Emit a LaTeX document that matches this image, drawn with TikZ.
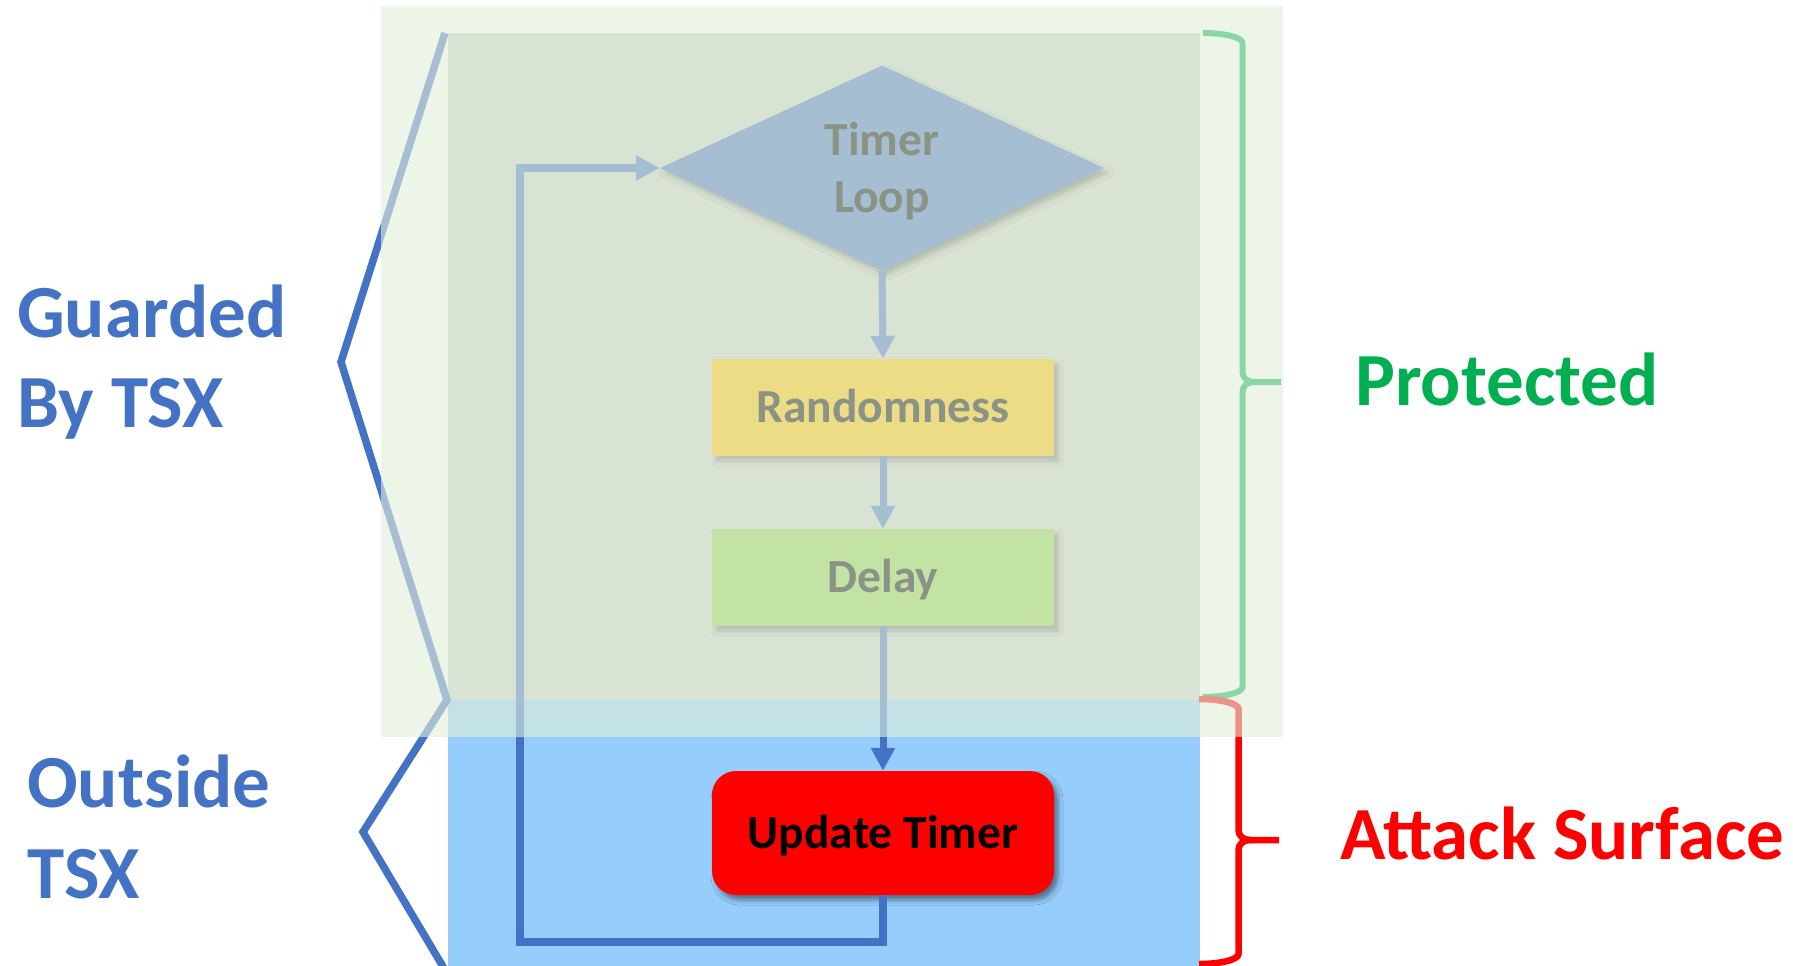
\documentclass[tikz,border=0pt]{standalone}
\usepackage{fontspec}
\setmainfont{Carlito}
\usetikzlibrary{shapes.geometric, arrows.meta, shadows.blur}

\definecolor{tsxblue}{RGB}{68,114,196}
\definecolor{gold}{RGB}{255,192,0}
\definecolor{lgreen}{RGB}{146,208,80}
\definecolor{okgreen}{RGB}{0,176,80}
\definecolor{skyblue}{RGB}{150,205,253}
\definecolor{guardgray}{RGB}{205,208,201}
\definecolor{veil}{RGB}{226,239,219}

\begin{document}
\begin{tikzpicture}[x=1pt, y=-1pt,
  flowbox/.style={draw=none, inner sep=0pt,
    blur shadow={shadow xshift=4pt, shadow yshift=-5pt,
                 shadow blur radius=5pt, shadow opacity=45}},
  boxtext/.style={font=\fontsize{47.5}{57}\selectfont\bfseries,
                  text height=30pt, text depth=0pt, inner sep=0pt},
  flow/.style={line width=7pt, draw=tsxblue,
               -{Triangle[length=23pt, width=23pt]}},
  side/.style={font=\fontsize{75}{90}\selectfont\bfseries,
               anchor=base west, inner sep=0pt},
  brk/.style={line width=7.5pt, draw=tsxblue, line join=miter},
  brc/.style={line width=6pt, line cap=butt, line join=round},
]
\useasboundingbox (0,0) rectangle (1793,966);

% backgrounds of the two zones
\fill[guardgray] (448,33) rectangle (1200,700);
\fill[skyblue] (448,700) rectangle (1200,966);

% left brackets
\coordinate (gTop) at (445,33);
\coordinate (gTip) at (341,362);
\coordinate (gBot) at (447,700);
\coordinate (oTip) at (363,832);
\coordinate (oBot) at (445,970);
\draw[brk] (gTop) -- (gTip) -- (gBot) -- (oTip) -- (oBot);

% right braces
\draw[brc, draw=okgreen] (1203,33) .. controls (1225,33) and (1242.5,37.5) .. (1242.5,43)
  -- (1242.5,372) .. controls (1242.5,378) and (1247,382) .. (1255,382) -- (1281,382);
\draw[brc, draw=okgreen] (1255,382) .. controls (1247,382) and (1242.5,386) .. (1242.5,392)
  -- (1242.5,687) .. controls (1242.5,692.5) and (1225,697) .. (1203,697);
\draw[brc, line width=6.5pt, draw=red] (1199,699) .. controls (1221,699) and (1238.5,703.5) .. (1238.5,709)
  -- (1238.5,830) .. controls (1238.5,836) and (1243,840) .. (1251,840) -- (1279,840);
\draw[brc, line width=6.5pt, draw=red] (1251,840) .. controls (1243,840) and (1238.5,844) .. (1238.5,850)
  -- (1238.5,954) .. controls (1238.5,959.5) and (1221,964) .. (1199,964);

% flow chart
\node[flowbox, diamond, fill=tsxblue, minimum width=444pt, minimum height=205pt] (loop) at (882,168) {};
\node[boxtext, anchor=base] (looptop) at (882,155) {Timer};
\node[boxtext, anchor=base] (loopbot) at (882,212) {Loop};
\node[flowbox, boxtext, rectangle, fill=gold, minimum width=342pt, minimum height=97pt] (rand) at (883,407.5) {Randomness};
\node[flowbox, boxtext, rectangle, fill=lgreen, minimum width=342pt, minimum height=97pt] (delay) at (883,577.5) {Delay};
\node[flowbox, boxtext, rectangle, rounded corners=24pt, fill=red, minimum width=342pt, minimum height=124pt] (upd) at (883,833) {Update Timer};

\draw[flow] (loop.south) -- (rand.north);
\draw[flow] (rand.south) -- (delay.north);
\draw[flow] (delay.south) -- (upd.north);
\coordinate (lowleft) at (520,942);
\draw[flow, line width=8pt, line join=miter, -{Triangle[length=24pt, width=24pt]}]
  (upd.south) |- (lowleft) |- (loop.west);

% translucent veil over the protected zone
\fill[veil, fill opacity=0.615] (381,6) rectangle (1283,737);

% side labels
\node[side, text=tsxblue] (guard1) at (17,337) {Guarded};
\node[side, text=tsxblue] (guard2) at (17,427) {By TSX};
\node[side, text=tsxblue] (out1) at (27,807) {Outside};
\node[side, text=tsxblue] (out2) at (27,898) {TSX};
\node[side, text=okgreen] (prot) at (1355,405) {Protected};
\node[side, text=red] (attack) at (1340,859) {Attack Surface};
\end{tikzpicture}
\end{document}
